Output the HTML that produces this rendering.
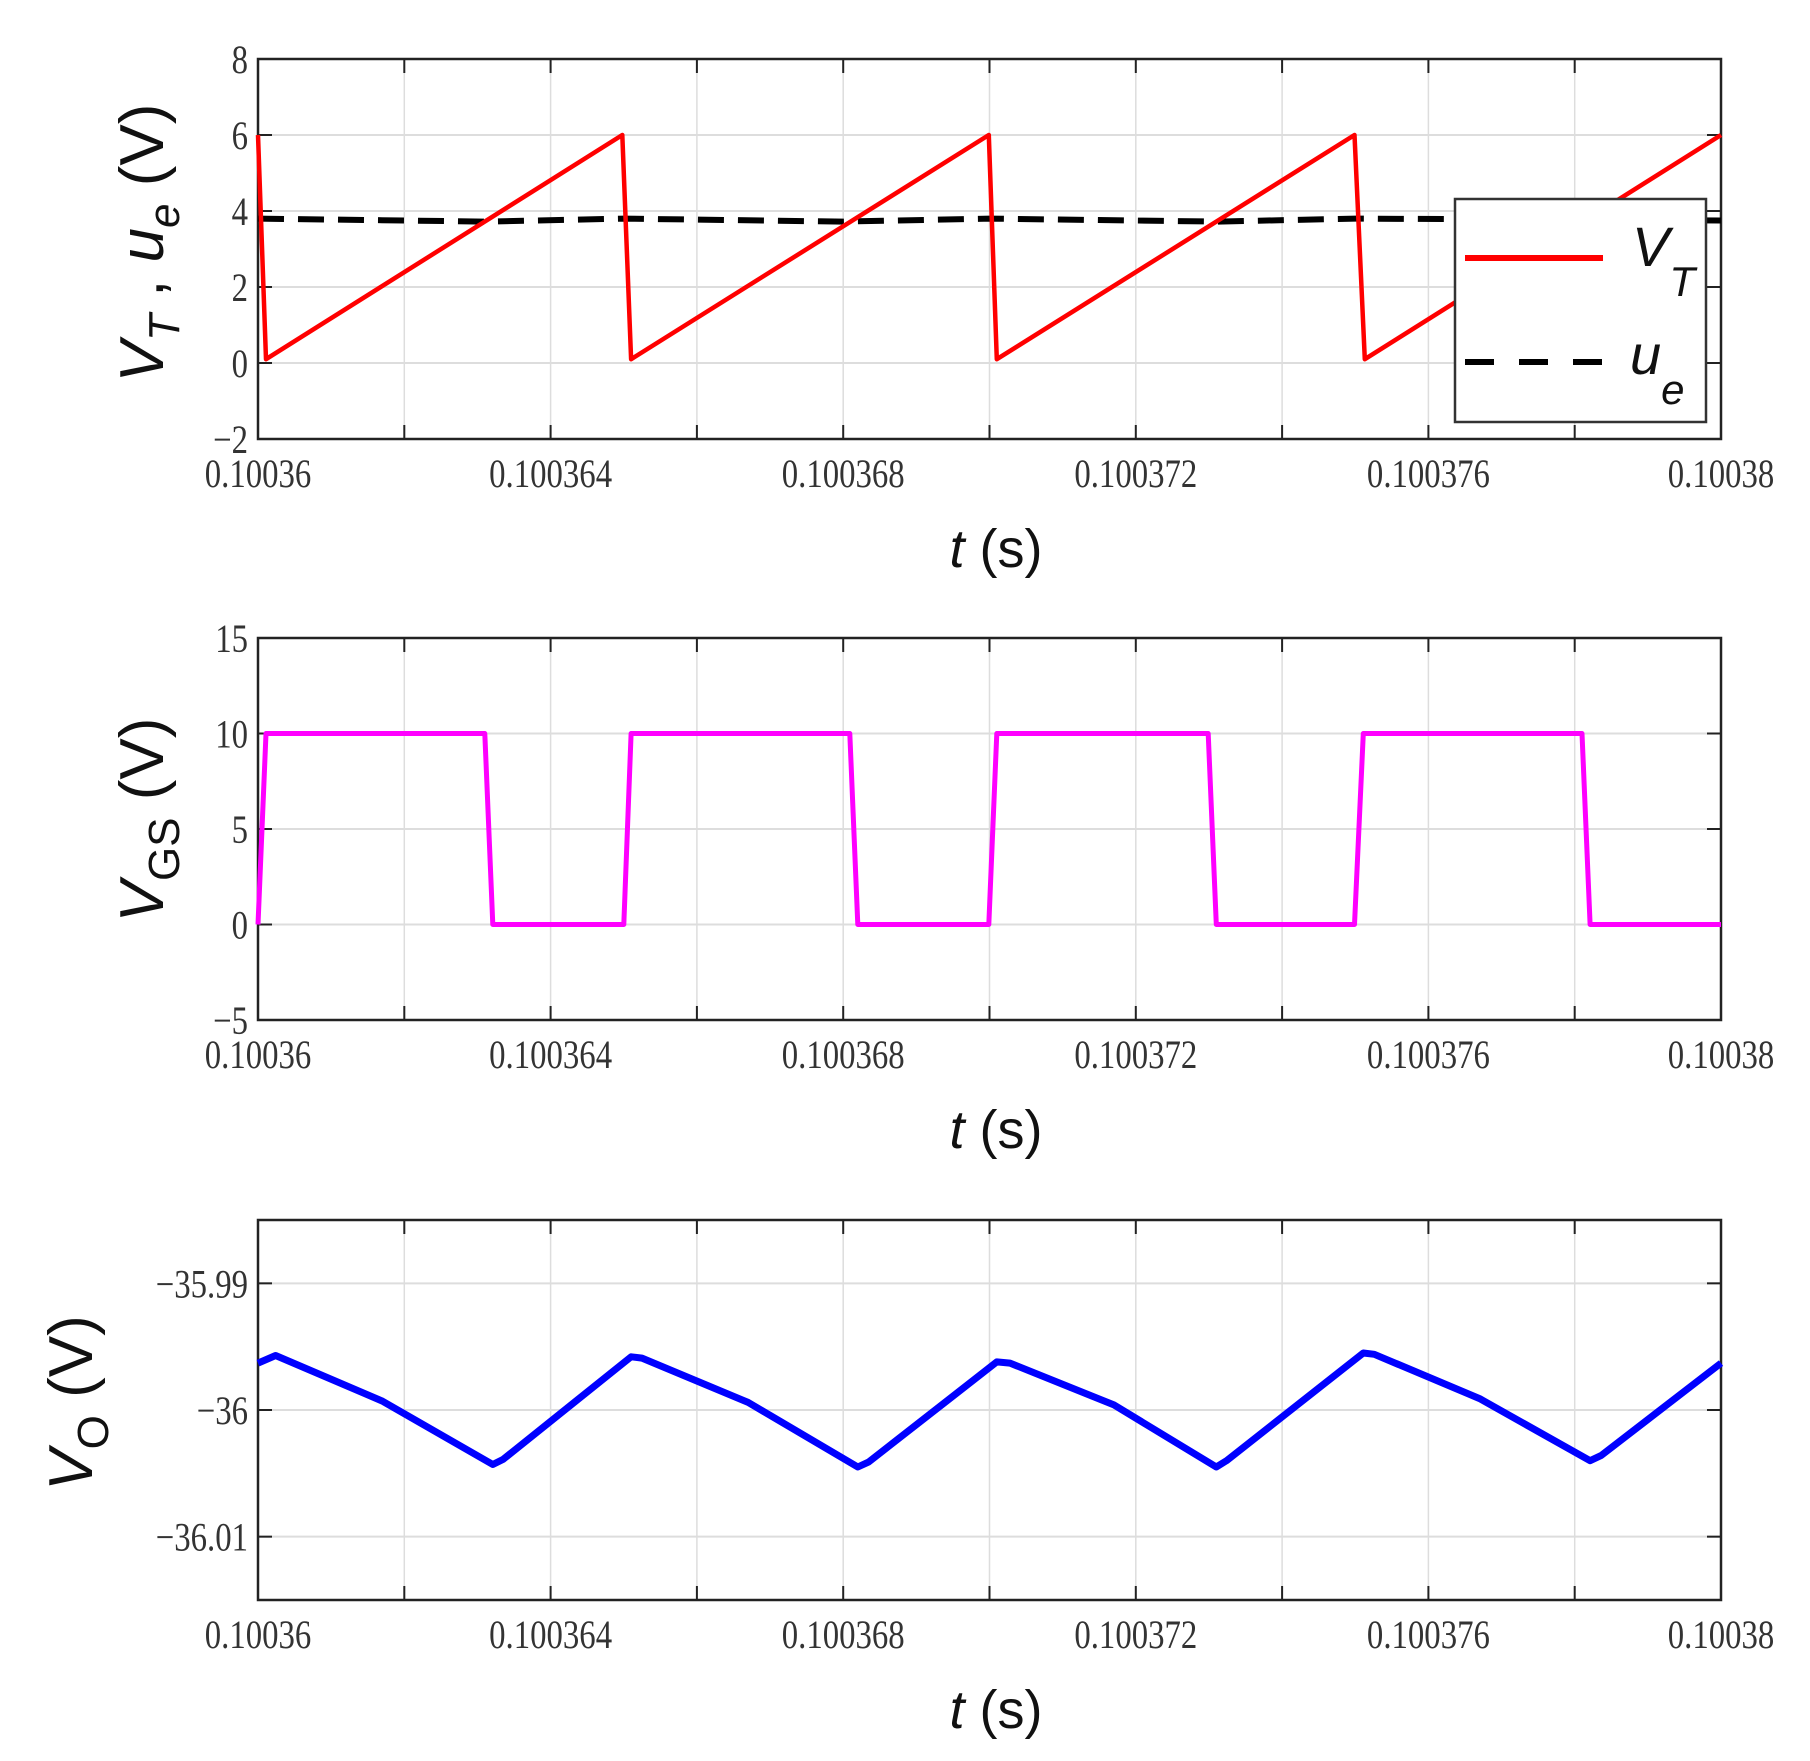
<!DOCTYPE html>
<html><head><meta charset="utf-8"><style>
html,body{margin:0;padding:0;background:#fff}
svg{display:block}
.tk{font-family:"Liberation Serif",serif;font-size:40px;fill:#333}
.lab{font-family:"Liberation Sans",sans-serif;font-size:54px;fill:#111}
.ylab{font-family:"Liberation Sans",sans-serif;font-size:62px;fill:#111}
</style></head><body>
<svg id="fig" width="1810" height="1761" viewBox="0 0 1810 1761" xmlns="http://www.w3.org/2000/svg"></svg>
<script>
// time in microseconds offset from 0.10036 s
const xTickLabels=["0.10036","0.100364","0.100368","0.100372","0.100376","0.10038"];
const vtT=[0,0.11,4.98,5.1,9.99,10.1,14.99,15.13,20];
const vtV=[6,0.1,6,0.1,6,0.1,6,0.1,6];
const ueT=[0,3.1,5.0,8.0,10.0,13.1,15.0,20];
const ueV=[3.8,3.72,3.8,3.72,3.8,3.72,3.8,3.75];
const vgsT=[0,0.11,3.1,3.21,5.0,5.1,8.09,8.2,9.99,10.1,12.99,13.1,14.99,15.11,18.1,18.21,20];
const vgsV=[0,10,10,0,0,10,10,0,0,10,10,0,0,10,10,0,0];
const voT=[0,0.24,1.7,3.21,3.35,5.1,5.25,6.7,8.2,8.35,10.1,10.28,11.7,13.1,13.24,15.11,15.26,16.7,18.21,18.36,20];
const voV=[-35.9963,-35.9957,-35.9993,-36.0043,-36.0039,-35.9958,-35.9959,-35.9994,-36.0045,-36.0041,-35.9962,-35.9963,-35.9996,-36.0045,-36.0040,-35.9955,-35.9956,-35.9991,-36.0040,-36.0036,-35.9963];
const p1Ticks=[-2,0,2,4,6,8];
const p2Ticks=[-5,0,5,10,15];
const p3Ticks=[-35.99,-36,-36.01];
const p3TickLabels=["\u221235.99","\u221236","\u221236.01"];

const NS="http://www.w3.org/2000/svg";
const svg=document.getElementById('fig');
const L=258,R=1721;
function xs(u){return L+(u/20)*(R-L);}
function mk(tag,attrs,parent){const e=document.createElementNS(NS,tag);for(const k in attrs)e.setAttribute(k,attrs[k]);(parent||svg).appendChild(e);return e;}

function panel(name,top,bot,y0,y1,ticks,tickLabels){
  const g=mk('g',{});
  
  
  const ys=v=>bot-(v-y0)/(y1-y0)*(bot-top);
  for(let i=0;i<=10;i++){
    const x=xs(i*2);
    const gl=mk('line',{x1:x,x2:x,y1:top,y2:bot,stroke:'#ddd','stroke-width':1.5},g);
    
    
    mk('line',{x1:x,x2:x,y1:bot,y2:bot-14,stroke:'#222','stroke-width':2},g);
    mk('line',{x1:x,x2:x,y1:top,y2:top+14,stroke:'#222','stroke-width':2},g);
  }
  ticks.forEach((v,i)=>{
    const y=ys(v);
    const gl=mk('line',{x1:L,x2:R,y1:y,y2:y,stroke:'#ddd','stroke-width':2},g);
    
    
    mk('line',{x1:L,x2:L+14,y1:y,y2:y,stroke:'#222','stroke-width':2},g);
    mk('line',{x1:R,x2:R-14,y1:y,y2:y,stroke:'#222','stroke-width':2},g);
    const t=mk('text',{transform:'translate(248,'+(y+14)+') scale(0.82,1)','text-anchor':'end',class:'tk'},g);
    
    
    t.textContent=tickLabels[i];
  });
  xTickLabels.forEach((s,i)=>{
    const t=mk('text',{transform:'translate('+xs(i*4)+','+(bot+48)+') scale(0.82,1)','text-anchor':'middle',class:'tk'},g);
    
    
    t.textContent=s;
  });
  const fr=mk('rect',{x:L,y:top,width:R-L,height:bot-top,fill:'none',stroke:'#222','stroke-width':2.5},g);
  
  
  const xl=mk('text',{x:996,y:bot+128,'text-anchor':'middle',class:'lab'},g);
  
  
  xl.innerHTML='<tspan font-style="italic">t</tspan> (s)';
  return {g,ys};
}
function series(g,ys,T,V,name,attrs){
  const pts=T.map((t,i)=>xs(t).toFixed(1)+','+ys(V[i]).toFixed(1)).join(' ');
  const p=mk('polyline',Object.assign({points:pts,fill:'none','stroke-linejoin':'round'},attrs),g);
  
  
}

const p1=panel('vt-ue-panel',59,439,-2,8,p1Ticks,p1Ticks.map(v=>v<0?'\u2212'+(-v):''+v));
series(p1.g,p1.ys,ueT,ueV,'ue-series',{stroke:'#000','stroke-width':6,'stroke-dasharray':'26,14'});
series(p1.g,p1.ys,vtT,vtV,'vt-series',{stroke:'#ff0000','stroke-width':4.5});
const yl1=mk('text',{transform:'translate(163,243) rotate(-90)','text-anchor':'middle',class:'ylab'},p1.g);


yl1.innerHTML='<tspan font-style="italic">V</tspan><tspan font-style="italic" font-size="44" dy="16">T</tspan><tspan dy="-16"> ,  </tspan><tspan font-style="italic">u</tspan><tspan font-style="italic" font-size="44" dy="16">e</tspan><tspan dy="-16"> (V)</tspan>';
const lg=mk('g',{},p1.g);


mk('rect',{x:1455,y:199,width:251,height:223,fill:'#fff',stroke:'#333','stroke-width':2.5},lg);
const le1=mk('line',{x1:1465,x2:1603,y1:258,y2:258,stroke:'#ff0000','stroke-width':6},lg);


const lt1=mk('text',{x:1632,y:266,class:'lab'},lg);


lt1.innerHTML='<tspan font-style="italic" font-size="56">V</tspan><tspan font-style="italic" font-size="42" dy="30">T</tspan>';
const le2=mk('line',{x1:1465,x2:1603,y1:362,y2:362,stroke:'#000','stroke-width':6,'stroke-dasharray':'29,25'},lg);


const lt2=mk('text',{x:1630,y:374,class:'lab'},lg);


lt2.innerHTML='<tspan font-style="italic" font-size="56">u</tspan><tspan font-style="italic" font-size="42" dy="30">e</tspan>';

const p2=panel('vgs-panel',638,1020,-5,15,p2Ticks,p2Ticks.map(v=>v<0?'\u2212'+(-v):''+v));
series(p2.g,p2.ys,vgsT,vgsV,'vgs-series',{stroke:'#ff00ff','stroke-width':5});
const yl2=mk('text',{transform:'translate(163,820) rotate(-90)','text-anchor':'middle',class:'ylab'},p2.g);


yl2.innerHTML='<tspan font-style="italic">V</tspan><tspan font-size="44" dy="16">GS</tspan><tspan dy="-16"> (V)</tspan>';

const p3=panel('vo-panel',1220,1600,-36.015,-35.985,p3Ticks,p3TickLabels);
series(p3.g,p3.ys,voT,voV,'vo-series',{stroke:'#0000ff','stroke-width':7});
const yl3=mk('text',{transform:'translate(92,1403) rotate(-90)','text-anchor':'middle',class:'ylab'},p3.g);


yl3.innerHTML='<tspan font-style="italic">V</tspan><tspan font-size="44" dy="16">O</tspan><tspan dy="-16"> (V)</tspan>';
</script>
</body></html>
